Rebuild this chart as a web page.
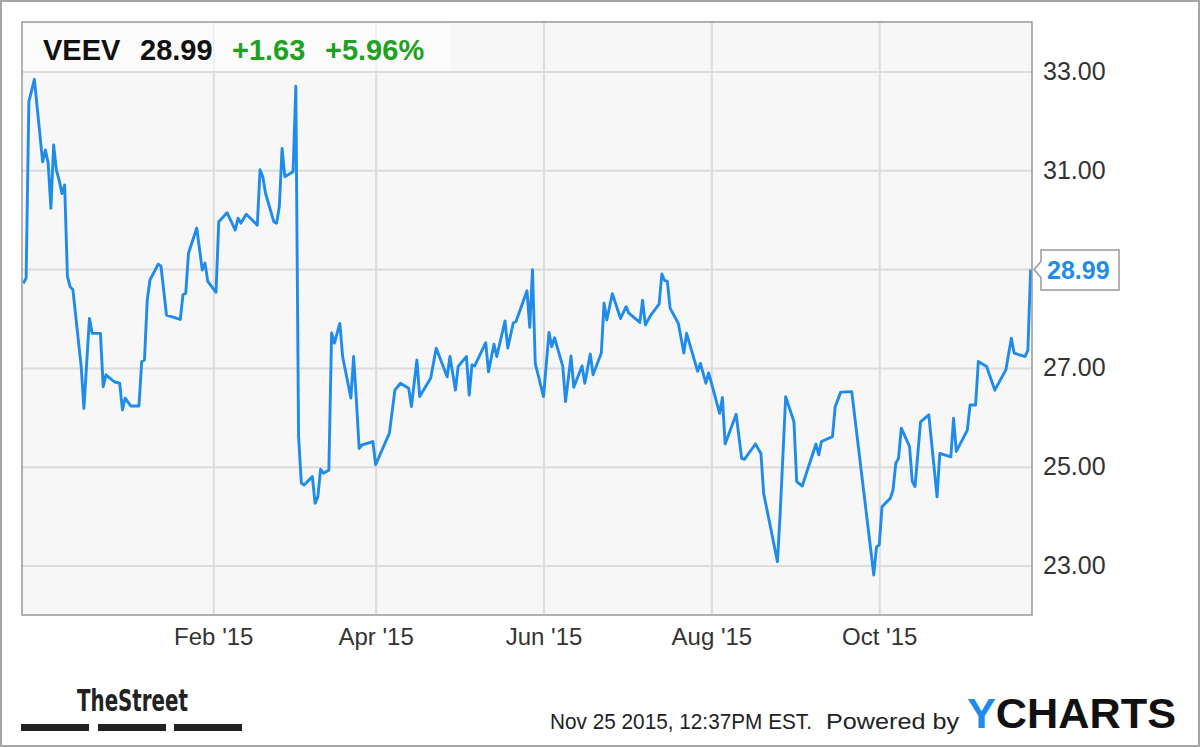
<!DOCTYPE html>
<html>
<head>
<meta charset="utf-8">
<script src="https://cdn.jsdelivr.net/npm/d3@7"></script>
<style>
    body { margin: 0; background: #fff; }
    svg { display: block; font-family: 'Liberation Sans', Arial, sans-serif; }
</style>
</head>
<body>
<div id="chart"></div>
<script>
// Ticker header
const ticker = 'VEEV'
const lastPrice = 28.99
const change = '+1.63'
const changePct = '+5.96%'

// Daily closes
const dates = [
    '2014-11-24', '2014-11-25', '2014-11-26', '2014-11-28', '2014-12-01', '2014-12-02', '2014-12-03',
    '2014-12-04', '2014-12-05', '2014-12-06', '2014-12-07', '2014-12-08', '2014-12-09', '2014-12-10',
    '2014-12-11', '2014-12-12', '2014-12-15', '2014-12-16', '2014-12-18', '2014-12-19', '2014-12-22',
    '2014-12-23', '2014-12-24', '2014-12-27', '2014-12-29', '2014-12-30', '2014-12-31', '2015-01-02',
    '2015-01-05', '2015-01-06', '2015-01-07', '2015-01-08', '2015-01-09', '2015-01-12', '2015-01-13',
    '2015-01-15', '2015-01-20', '2015-01-21', '2015-01-22', '2015-01-23', '2015-01-26', '2015-01-28',
    '2015-01-29', '2015-01-30', '2015-02-02', '2015-02-03', '2015-02-06', '2015-02-09', '2015-02-10',
    '2015-02-11', '2015-02-13', '2015-02-17', '2015-02-18', '2015-02-19', '2015-02-20', '2015-02-23',
    '2015-02-24', '2015-02-25', '2015-02-26', '2015-02-27', '2015-03-02', '2015-03-03', '2015-03-04',
    '2015-03-05', '2015-03-06', '2015-03-09', '2015-03-10', '2015-03-11', '2015-03-12', '2015-03-13',
    '2015-03-15', '2015-03-16', '2015-03-17', '2015-03-19', '2015-03-20', '2015-03-23', '2015-03-24',
    '2015-03-25', '2015-03-26', '2015-03-27', '2015-03-31', '2015-04-01', '2015-04-06', '2015-04-08',
    '2015-04-10', '2015-04-13', '2015-04-14', '2015-04-16', '2015-04-17', '2015-04-21', '2015-04-23',
    '2015-04-27', '2015-04-28', '2015-04-30', '2015-05-01', '2015-05-04', '2015-05-05', '2015-05-06',
    '2015-05-07', '2015-05-11', '2015-05-12', '2015-05-14', '2015-05-15', '2015-05-18', '2015-05-19',
    '2015-05-21', '2015-05-22', '2015-05-26', '2015-05-27', '2015-05-28', '2015-05-29', '2015-06-01',
    '2015-06-03', '2015-06-04', '2015-06-05', '2015-06-08', '2015-06-09', '2015-06-11', '2015-06-12',
    '2015-06-15', '2015-06-16', '2015-06-18', '2015-06-19', '2015-06-22', '2015-06-23', '2015-06-24',
    '2015-06-26', '2015-06-29', '2015-07-01', '2015-07-02', '2015-07-06', '2015-07-07', '2015-07-08',
    '2015-07-10', '2015-07-13', '2015-07-14', '2015-07-15', '2015-07-16', '2015-07-17', '2015-07-20',
    '2015-07-22', '2015-07-23', '2015-07-27', '2015-07-28', '2015-07-30', '2015-07-31', '2015-08-04',
    '2015-08-05', '2015-08-06', '2015-08-10', '2015-08-12', '2015-08-13', '2015-08-17', '2015-08-19',
    '2015-08-20', '2015-08-25', '2015-08-26', '2015-08-28', '2015-08-31', '2015-09-01', '2015-09-03',
    '2015-09-08', '2015-09-09', '2015-09-10', '2015-09-14', '2015-09-15', '2015-09-17', '2015-09-21',
    '2015-09-29', '2015-09-30', '2015-10-01', '2015-10-02', '2015-10-05', '2015-10-06', '2015-10-07',
    '2015-10-08', '2015-10-09', '2015-10-12', '2015-10-13', '2015-10-14', '2015-10-16', '2015-10-19',
    '2015-10-22', '2015-10-23', '2015-10-27', '2015-10-28', '2015-10-29', '2015-11-02', '2015-11-03',
    '2015-11-05', '2015-11-06', '2015-11-09', '2015-11-12', '2015-11-16', '2015-11-18', '2015-11-19',
    '2015-11-23', '2015-11-24', '2015-11-25',
]
const prices = [
    28.71, 28.82, 32.39, 32.84, 31.17, 31.41, 31.15,
    30.23, 31.51, 31.00, 30.80, 30.53, 30.70, 28.85,
    28.64, 28.58, 27.03, 26.18, 28.00, 27.70, 27.70,
    26.62, 26.86, 26.72, 26.69, 26.15, 26.39, 26.23,
    26.23, 27.13, 27.16, 28.37, 28.78, 29.10, 29.06,
    28.07, 27.98, 28.48, 28.51, 29.32, 29.83, 28.98,
    29.12, 28.75, 28.53, 29.96, 30.14, 29.79, 30.03,
    29.93, 30.11, 29.89, 31.01, 30.87, 30.53, 29.96,
    29.93, 30.26, 31.44, 30.87, 30.97, 32.70, 25.61,
    24.67, 24.63, 24.80, 24.26, 24.39, 24.95, 24.87,
    24.93, 27.71, 27.50, 27.90, 27.23, 26.39, 27.23,
    26.35, 25.37, 25.44, 25.51, 25.04, 25.68, 26.55,
    26.69, 26.59, 26.22, 27.16, 26.42, 26.79, 27.40,
    26.82, 27.23, 26.55, 27.03, 27.23, 26.45, 27.06,
    27.04, 27.51, 26.92, 27.48, 27.23, 27.95, 27.40,
    27.91, 27.94, 28.56, 27.82, 28.99, 27.09, 26.42,
    27.72, 27.43, 27.61, 27.03, 26.32, 27.24, 26.61,
    27.04, 26.69, 27.28, 26.86, 27.30, 28.31, 27.97,
    28.50, 28.00, 28.24, 28.11, 27.92, 28.37, 27.87,
    28.07, 28.29, 28.90, 28.77, 28.75, 28.21, 27.90,
    27.30, 27.70, 26.93, 27.09, 26.69, 26.90, 26.08,
    26.40, 25.46, 26.06, 25.17, 25.15, 25.46, 25.27,
    24.46, 23.08, 24.06, 26.42, 25.91, 24.70, 24.61,
    25.46, 25.24, 25.51, 25.61, 26.22, 26.51, 26.52,
    22.81, 23.38, 23.42, 24.19, 24.36, 24.53, 25.07,
    25.17, 25.78, 25.41, 24.70, 24.60, 25.91, 26.05,
    24.39, 25.27, 25.20, 25.98, 25.31, 25.74, 26.25,
    26.25, 27.13, 27.03, 26.55, 26.96, 27.60, 27.30,
    27.23, 27.36, 28.99,
]

// Axis ticks
const xTickDates = ['2015-02-01', '2015-04-01', '2015-06-01', '2015-08-01', '2015-10-01']
const yTickValues = [23, 25, 27, 29, 31, 33]

const footerStamp = 'Nov 25 2015, 12:37PM EST.'

// Frame configuration
const config = {
    w: 1200,
    h: 747,
    plot: { left: 22, top: 22, right: 1032, bottom: 615 },
    lineColor: '#1f8ceb',
    gridColor: '#dcdcdc',
    frameColor: '#999',
}

const parseDate = d3.timeParse('%Y-%m-%d')
const entries = dates.map((d, i) => ({ date: parseDate(d), value: prices[i] }))

const svg = d3
    .select('#chart')
    .append('svg')
    .attr('width', config.w)
    .attr('height', config.h)

// Outer border
svg.append('rect')
    .attr('x', 1)
    .attr('y', 1)
    .attr('width', config.w - 2)
    .attr('height', config.h - 2)
    .attr('fill', '#fff')
    .attr('stroke', '#a6a6a6')
    .attr('stroke-width', 2)

const p = config.plot

// Scales
const timeScale = d3
    .scaleTime()
    .domain([new Date(2014, 10, 23, 12), new Date(2015, 10, 25, 12)])
    .range([p.left, p.right])

const valueScale = d3
    .scaleLinear()
    .domain([22, 34])
    .range([p.bottom, p.top])

// Plot background
svg.append('rect')
    .attr('x', p.left)
    .attr('y', p.top)
    .attr('width', p.right - p.left)
    .attr('height', p.bottom - p.top)
    .attr('fill', '#f7f7f7')

// Grid lines
const xGrid = svg
    .append('g')
    .attr('transform', `translate(0, ${p.bottom})`)
    .call(
        d3
            .axisBottom(timeScale)
            .tickValues(xTickDates.map(parseDate))
            .tickSize(-(p.bottom - p.top))
            .tickFormat('')
    )
xGrid.select('.domain').remove()
xGrid.selectAll('line').attr('stroke', config.gridColor).attr('stroke-width', 2)

const yGrid = svg
    .append('g')
    .attr('transform', `translate(${p.left}, 0)`)
    .call(
        d3
            .axisLeft(valueScale)
            .tickValues(yTickValues)
            .tickSize(-(p.right - p.left))
            .tickFormat('')
    )
yGrid.select('.domain').remove()
yGrid.selectAll('line').attr('stroke', config.gridColor).attr('stroke-width', 2)

// Price line
const linePath = d3
    .line()
    .x((d) => timeScale(d.date))
    .y((d) => valueScale(d.value))

svg.append('path')
    .datum(entries)
    .attr('d', linePath)
    .attr('fill', 'none')
    .attr('stroke', config.lineColor)
    .attr('stroke-width', 2.9)
    .attr('stroke-linejoin', 'round')

// Plot frame
svg.append('rect')
    .attr('x', p.left)
    .attr('y', p.top)
    .attr('width', p.right - p.left)
    .attr('height', p.bottom - p.top)
    .attr('fill', 'none')
    .attr('stroke', config.frameColor)
    .attr('stroke-width', 1.5)

// Header box with quote
svg.append('rect')
    .attr('x', p.left + 1)
    .attr('y', p.top + 1)
    .attr('width', 428)
    .attr('height', 48)
    .attr('fill', '#fff')
    .attr('fill-opacity', 0.55)

const header = svg
    .append('text')
    .attr('y', 60)
    .attr('font-size', 29)
    .attr('font-weight', 'bold')
header.append('tspan').attr('x', 43).attr('fill', '#111').text(ticker)
header.append('tspan').attr('x', 140).attr('fill', '#111').text(d3.format('.2f')(lastPrice))
header.append('tspan').attr('x', 232).attr('fill', '#21a121').text(change)
header.append('tspan').attr('x', 325).attr('fill', '#21a121').text(changePct)

// Value axis on the right
const valueAxis = svg
    .append('g')
    .attr('transform', `translate(${p.right}, 0)`)
    .call(
        d3
            .axisRight(valueScale)
            .tickValues(yTickValues)
            .tickSize(0)
            .tickPadding(11)
            .tickFormat((d) => (Math.abs(d - lastPrice) < 1 ? '' : d3.format('.2f')(d)))
    )
valueAxis.select('.domain').remove()
valueAxis
    .selectAll('text')
    .attr('font-size', 25)
    .attr('font-family', 'Liberation Sans, Arial, sans-serif')
    .attr('fill', '#333')

// Time axis
const timeAxis = svg
    .append('g')
    .attr('transform', `translate(0, ${p.bottom})`)
    .call(
        d3
            .axisBottom(timeScale)
            .tickValues(xTickDates.map(parseDate))
            .tickSize(0)
            .tickPadding(13)
            .tickFormat(d3.timeFormat("%b '%y"))
    )
timeAxis.select('.domain').remove()
timeAxis
    .selectAll('text')
    .attr('font-size', 24)
    .attr('font-family', 'Liberation Sans, Arial, sans-serif')
    .attr('fill', '#333')

// Last price tag
const tagY = valueScale(lastPrice)
const tag = svg.append('g').attr('transform', `translate(${p.right}, ${tagY})`)
tag.append('path')
    .attr('d', 'M2,0 L9,-8 L9,-19.5 L87,-19.5 L87,20.5 L9,20.5 L9,8 Z')
    .attr('fill', '#fff')
    .attr('stroke', '#999')
    .attr('stroke-width', 1.5)
tag.append('text')
    .attr('x', 15)
    .attr('y', 9)
    .attr('font-size', 25)
    .attr('font-weight', 'bold')
    .attr('fill', '#1f8ceb')
    .text(d3.format('.2f')(lastPrice))

// Footer: TheStreet logo
svg.append('text')
    .attr('x', 77)
    .attr('y', 711)
    .attr('font-size', 30)
    .attr('font-weight', 'bold')
    .attr('font-family', 'Liberation Sans Narrow, DejaVu Sans Condensed, sans-serif')
    .attr('textLength', 111)
    .attr('lengthAdjust', 'spacingAndGlyphs')
    .attr('fill', '#222')
    .text('TheStreet')

svg.append('g')
    .selectAll('rect')
    .data([21, 98, 174])
    .join('rect')
    .attr('x', (d) => d)
    .attr('y', 724)
    .attr('width', 68)
    .attr('height', 7)
    .attr('fill', '#222')

// Footer: timestamp and YCharts credit
svg.append('text')
    .attr('x', 550)
    .attr('y', 729)
    .attr('font-size', 22)
    .attr('fill', '#222')
    .attr('textLength', 262)
    .attr('lengthAdjust', 'spacingAndGlyphs')
    .text(footerStamp)

svg.append('text')
    .attr('x', 826)
    .attr('y', 729)
    .attr('font-size', 22)
    .attr('fill', '#222')
    .attr('textLength', 133)
    .attr('lengthAdjust', 'spacingAndGlyphs')
    .text('Powered by')

const brand = svg
    .append('text')
    .attr('x', 967)
    .attr('y', 728)
    .attr('font-size', 42)
    .attr('font-weight', 'bold')
    .attr('textLength', 209)
    .attr('lengthAdjust', 'spacingAndGlyphs')
brand.append('tspan').attr('fill', '#1f8ceb').text('Y')
brand.append('tspan').attr('fill', '#111').text('CHARTS')
</script>
</body>
</html>
